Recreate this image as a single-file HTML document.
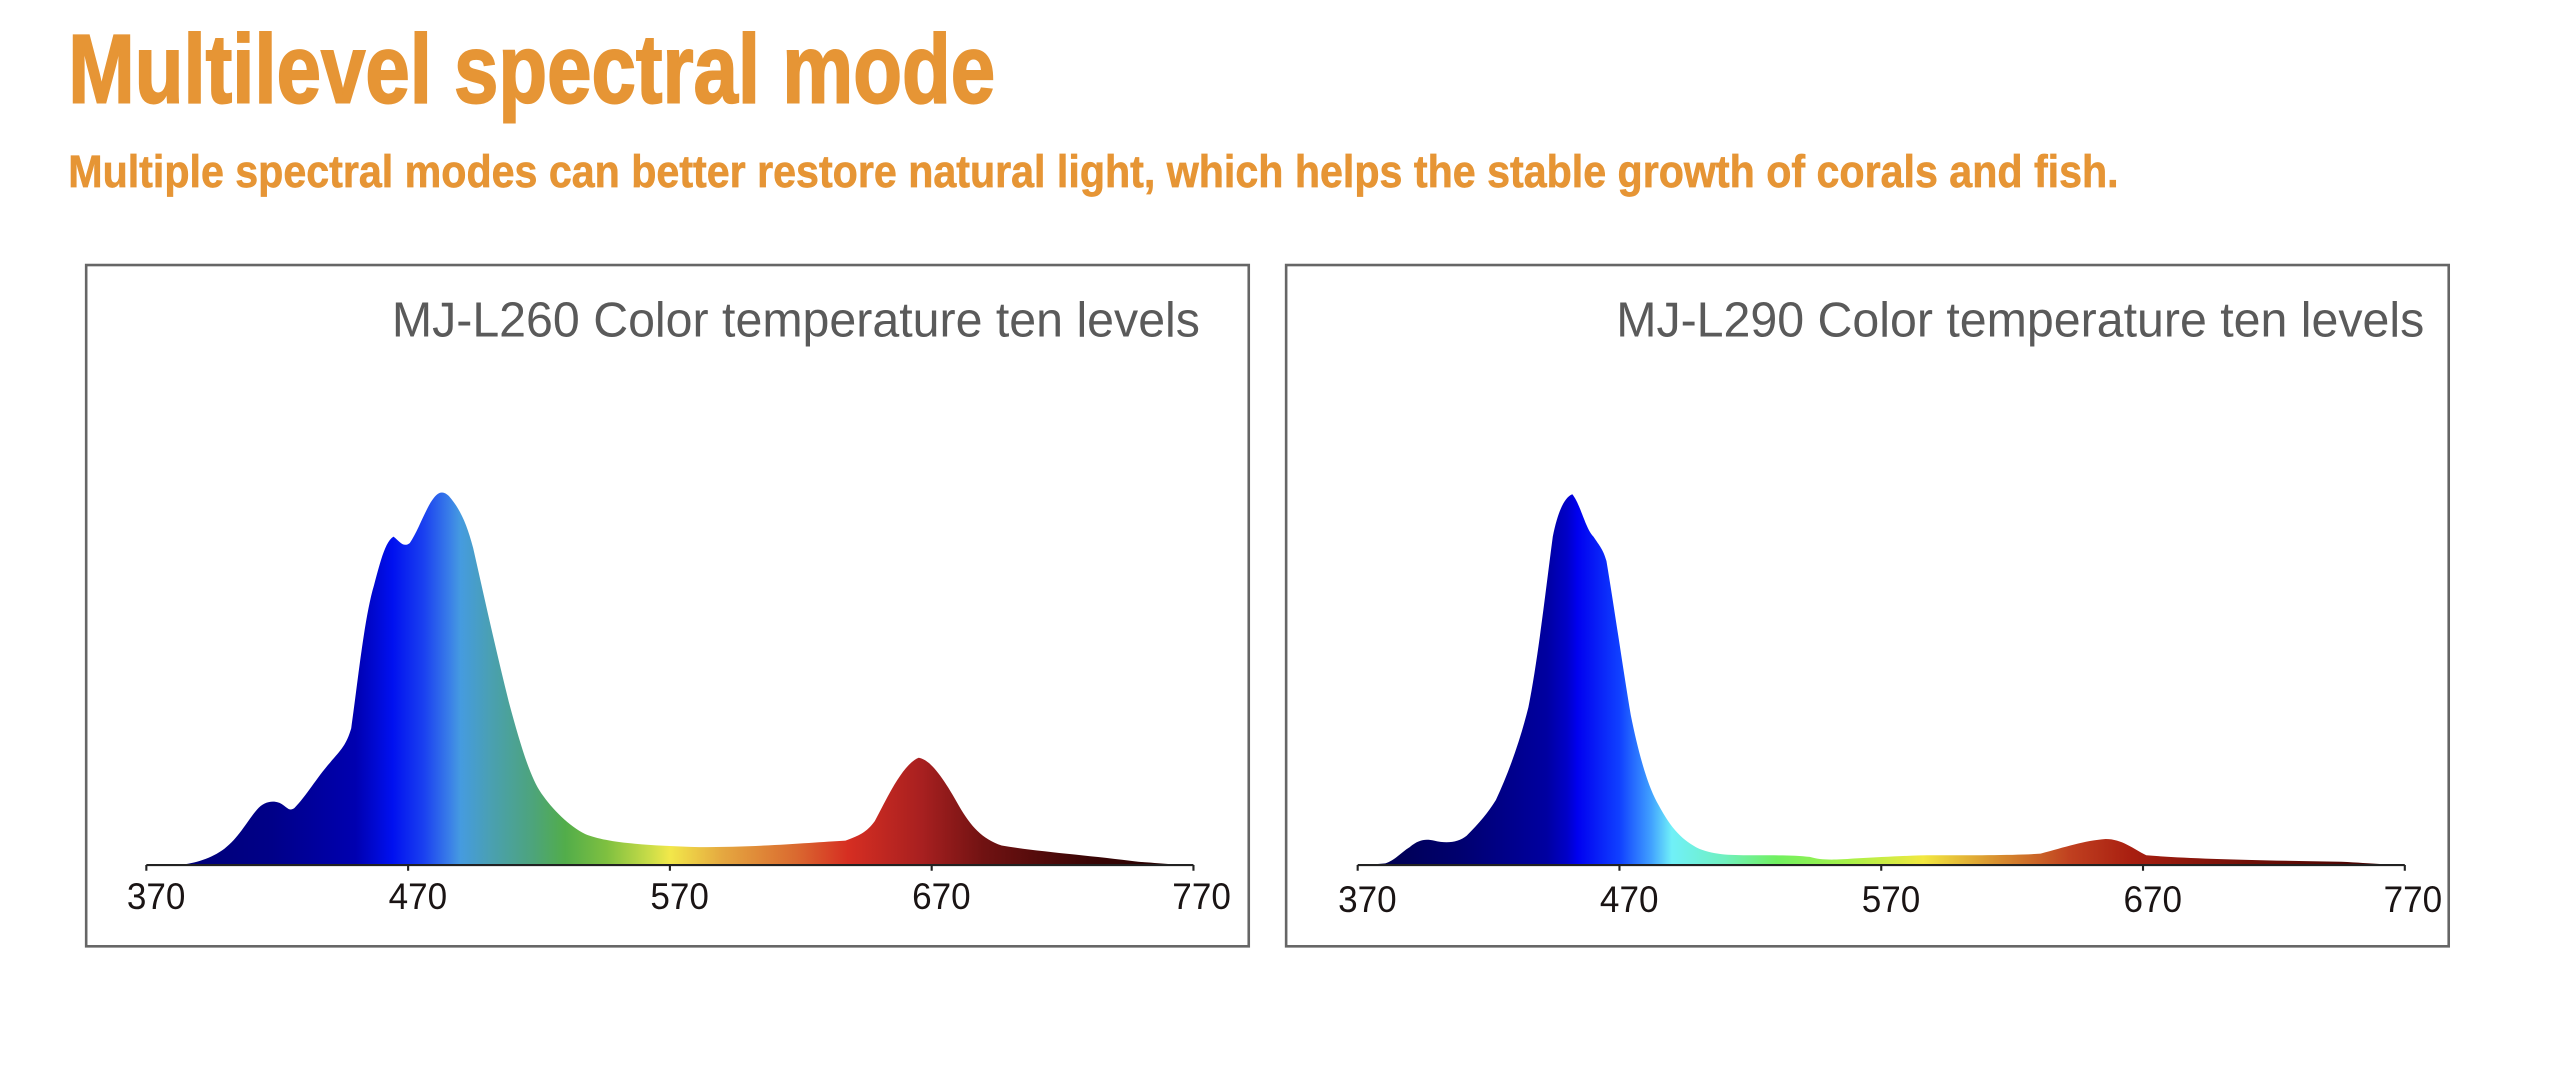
<!DOCTYPE html>
<html><head><meta charset="utf-8"><style>
html,body{margin:0;padding:0;background:#fff;width:2550px;height:1072px;overflow:hidden}
svg{display:block}
</style></head><body>
<svg width="2550" height="1072" viewBox="0 0 1568.3 659.3" preserveAspectRatio="none" xmlns="http://www.w3.org/2000/svg">
<defs>
<linearGradient id="g1" gradientUnits="userSpaceOnUse" x1="90" y1="0" x2="734" y2="0">
<stop offset="0" stop-color="#000070"/>
<stop offset="0.12" stop-color="#000088"/>
<stop offset="0.2" stop-color="#0000b0"/>
<stop offset="0.235" stop-color="#0010f0"/>
<stop offset="0.265" stop-color="#1a40f0"/>
<stop offset="0.29" stop-color="#3a80e8"/>
<stop offset="0.3" stop-color="#459be0"/>
<stop offset="0.33" stop-color="#4aa0b0"/>
<stop offset="0.37" stop-color="#4da47a"/>
<stop offset="0.4" stop-color="#52ad4a"/>
<stop offset="0.44" stop-color="#7fc040"/>
<stop offset="0.48" stop-color="#c8dc48"/>
<stop offset="0.5" stop-color="#f2e84a"/>
<stop offset="0.55" stop-color="#e5a840"/>
<stop offset="0.62" stop-color="#da6a30"/>
<stop offset="0.67" stop-color="#d62e22"/>
<stop offset="0.74" stop-color="#a82020"/>
<stop offset="0.8" stop-color="#701212"/>
<stop offset="0.9" stop-color="#3a0505"/>
<stop offset="1" stop-color="#200000"/>
</linearGradient>
<linearGradient id="g2" gradientUnits="userSpaceOnUse" x1="835" y1="0" x2="1479" y2="0">
<stop offset="0" stop-color="#000048"/>
<stop offset="0.1" stop-color="#000070"/>
<stop offset="0.18" stop-color="#0000a0"/>
<stop offset="0.2" stop-color="#0000c8"/>
<stop offset="0.21" stop-color="#0000f0"/>
<stop offset="0.25" stop-color="#1040ff"/>
<stop offset="0.28" stop-color="#40a0ff"/>
<stop offset="0.3" stop-color="#70f0f8"/>
<stop offset="0.35" stop-color="#70f0c0"/>
<stop offset="0.4" stop-color="#70f060"/>
<stop offset="0.47" stop-color="#a8f048"/>
<stop offset="0.54" stop-color="#f2e840"/>
<stop offset="0.61" stop-color="#d89030"/>
<stop offset="0.68" stop-color="#c04020"/>
<stop offset="0.74" stop-color="#a81e10"/>
<stop offset="0.85" stop-color="#701008"/>
<stop offset="1" stop-color="#3a0000"/>
</linearGradient>
</defs>
<text x="42" y="63" font-family="Liberation Sans, sans-serif" font-weight="bold" font-size="60" fill="#e69535" stroke="#e69535" stroke-width="1.2" textLength="570" lengthAdjust="spacingAndGlyphs">Multilevel spectral mode</text>
<text x="42" y="115" font-family="Liberation Sans, sans-serif" font-weight="bold" font-size="28" fill="#e69535" stroke="#e69535" stroke-width="0.4" textLength="1261" lengthAdjust="spacingAndGlyphs">Multiple spectral modes can better restore natural light, which helps the stable growth of corals and fish.</text>

<rect x="53" y="163" width="715" height="419" fill="none" stroke="#666" stroke-width="1.6"/>
<rect x="791" y="163" width="715" height="419" fill="none" stroke="#666" stroke-width="1.6"/>

<text x="738" y="207" text-anchor="end" font-family="Liberation Sans, sans-serif" font-size="30" fill="#5a5a5a" textLength="497" lengthAdjust="spacingAndGlyphs">MJ-L260 Color temperature ten levels</text>
<text x="1491" y="207" text-anchor="end" font-family="Liberation Sans, sans-serif" font-size="30" fill="#5a5a5a" textLength="497" lengthAdjust="spacingAndGlyphs">MJ-L290 Color temperature ten levels</text>

<path fill="url(#g1)" d="M110,532 C120,531 130,528 138,522 C147,515 152,505 158,498 C163,492 170,492 174,495 C177,497 178,499 181,497 C188,490 195,478 203,469 C210,461 213,458 216,448 C220,420 224,380 230,360 C234,345 237,333 242,330 C246,333 248,337 252,334 C257,327 262,312 267,306 C270,302 273,302 276,305 C283,313 287,322 291,337 C298,368 305,400 313,432 C320,458 326,478 333,488 C340,498 350,508 360,513 C372,518 395,520 430,521 C470,521 500,518 520,517 C528,514 533,512 538,505 C545,492 555,470 565,466 C572,467 580,478 590,496 C597,508 604,516 616,520 C640,524 670,526 700,530 C715,531 725,532 734,532 Z"/>
<path fill="url(#g2)" d="M840,532 L852,531 C858,529 862,524 867,521 C873,516 877,516 882,517 C890,519 897,518 902,514 C910,506 915,500 920,492 C928,475 935,455 940,435 C946,405 951,360 955,330 C958,315 962,306 967,304 C972,310 975,325 980,330 C984,336 986,338 988,345 C993,375 998,410 1003,440 C1008,465 1014,485 1020,495 C1028,510 1035,517 1045,522 C1055,526 1065,526 1080,526 C1095,526 1105,526 1113,527 C1120,529 1127,529 1140,528 C1160,527 1175,526 1190,526 C1215,526 1240,526 1255,525 C1270,521 1282,517 1295,516 C1305,516 1312,522 1320,526 C1345,528 1380,529 1440,530 C1460,531 1470,532 1479,532 Z"/>

<g stroke="#222" stroke-width="1.3" fill="none">
<path d="M90,532 H734"/>
<path d="M90,532 v3.5 M251,532 v3.5 M412,532 v3.5 M573,532 v3.5 M734,532 v3.5"/>
<path d="M835,532 H1479"/>
<path d="M835,532 v3.5 M996,532 v3.5 M1157,532 v3.5 M1318,532 v3.5 M1479,532 v3.5"/>
</g>
<g font-family="Liberation Sans, sans-serif" font-size="23" fill="#1a1414" text-anchor="middle">
<text x="96" y="559" textLength="36" lengthAdjust="spacingAndGlyphs">370</text>
<text x="257" y="559" textLength="36" lengthAdjust="spacingAndGlyphs">470</text>
<text x="418" y="559" textLength="36" lengthAdjust="spacingAndGlyphs">570</text>
<text x="579" y="559" textLength="36" lengthAdjust="spacingAndGlyphs">670</text>
<text x="739" y="559" textLength="36" lengthAdjust="spacingAndGlyphs">770</text>
<text x="841" y="561" textLength="36" lengthAdjust="spacingAndGlyphs">370</text>
<text x="1002" y="561" textLength="36" lengthAdjust="spacingAndGlyphs">470</text>
<text x="1163" y="561" textLength="36" lengthAdjust="spacingAndGlyphs">570</text>
<text x="1324" y="561" textLength="36" lengthAdjust="spacingAndGlyphs">670</text>
<text x="1484" y="561" textLength="36" lengthAdjust="spacingAndGlyphs">770</text>
</g>
</svg>
</body></html>
